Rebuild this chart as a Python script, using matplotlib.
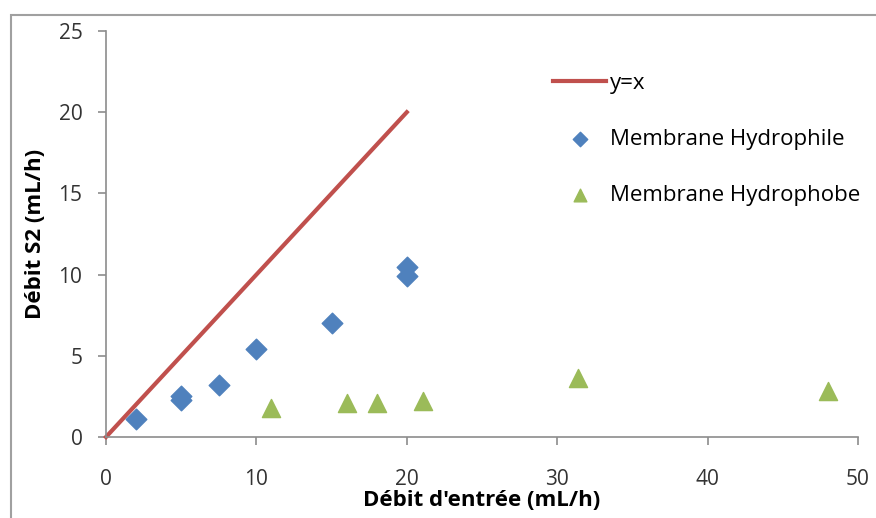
import matplotlib.pyplot as plt
from matplotlib.patches import Rectangle

plt.rcParams['font.family'] = ['Open Sans', 'DejaVu Sans']

# données
ligne_x = [0, 20]
ligne_y = [0, 20]

hydrophile_x = [2, 5, 5, 7.5, 10, 15, 20, 20]
hydrophile_y = [1.1, 2.3, 2.5, 3.2, 5.4, 7.0, 9.9, 10.45]

hydrophobe_x = [11, 16, 18, 21.1, 31.4, 48]
hydrophobe_y = [1.8, 2.1, 2.1, 2.2, 3.65, 2.85]

x_ticks = [0, 10, 20, 30, 40, 50]
y_ticks = [0, 5, 10, 15, 20, 25]

fig = plt.figure(figsize=(8.76, 5.18), dpi=100)
ax = fig.add_axes([106/876, 1 - 437/518, (858 - 106)/876, (437 - 31)/518])

# cadre extérieur
fig.patches.append(Rectangle((10.5/876, -0.1), 1.2, 1 - 15/518 + 0.1,
                             transform=fig.transFigure, fill=False,
                             edgecolor='#a0a0a0', linewidth=1.5))

ax.plot(ligne_x, ligne_y, color='#c0504d', linewidth=3, label='y=x', clip_on=False)
ax.scatter(hydrophile_x, hydrophile_y, marker='D', s=110, color='#4f81bd',
           label='Membrane Hydrophile', zorder=3)
ax.scatter(hydrophobe_x, hydrophobe_y, marker='^', s=170, color='#9bbb59',
           label='Membrane Hydrophobe', zorder=3)

ax.set_xlim(0, 50)
ax.set_ylim(0, 25)
ax.set_xticks(x_ticks)
ax.set_yticks(y_ticks)

for s in ['top', 'right']:
    ax.spines[s].set_visible(False)
for s in ['left', 'bottom']:
    ax.spines[s].set_color('#8c8c8c')
    ax.spines[s].set_linewidth(1.2)
ax.tick_params(direction='out', length=6, width=1.2, color='#8c8c8c',
               labelsize=15, labelcolor='#333333')
ax.tick_params(axis='y', pad=11)
ax.tick_params(axis='x', pad=17)

ax.set_xlabel("Débit d'entrée (mL/h)", fontsize=16, fontweight='bold', labelpad=0)
ax.set_ylabel('Débit S2 (mL/h)', fontsize=16, fontweight='bold', labelpad=9)

leg = ax.legend(loc='upper left', bbox_to_anchor=(553/876, 1 - 73/518),
                bbox_transform=fig.transFigure, frameon=False, borderpad=0,
                borderaxespad=0, fontsize=16, labelspacing=1.58,
                handlelength=2.4, handletextpad=0.15, markerscale=0.7)

fig.savefig('out.png', dpi=100)
